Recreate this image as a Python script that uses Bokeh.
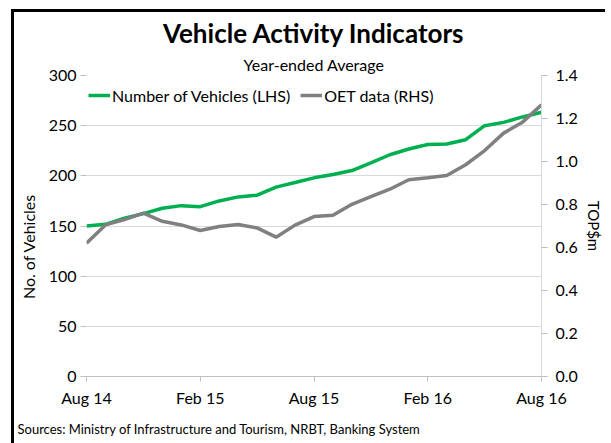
from bokeh.plotting import figure
from bokeh.models import (Range1d, LinearAxis, FixedTicker, Legend, LegendItem,
                          Title)
from bokeh.embed import file_html
from bokeh.resources import INLINE

months = ["Aug 14", "Sep 14", "Oct 14", "Nov 14", "Dec 14", "Jan 15", "Feb 15",
          "Mar 15", "Apr 15", "May 15", "Jun 15", "Jul 15", "Aug 15", "Sep 15",
          "Oct 15", "Nov 15", "Dec 15", "Jan 16", "Feb 16", "Mar 16", "Apr 16",
          "May 16", "Jun 16", "Jul 16", "Aug 16"]
vehicles = [150, 151.7, 157.7, 162.3, 167.7, 170.3, 169.3, 175, 179, 180.7, 188.7,
            193.3, 198, 201.3, 205.3, 213, 221, 226.7, 231.3, 231.7, 236, 250,
            253.3, 258.7, 263.3]
oet = [0.62, 0.705, 0.73, 0.76, 0.722, 0.705, 0.679, 0.698, 0.707, 0.691, 0.648,
       0.704, 0.744, 0.75, 0.801, 0.837, 0.871, 0.915, 0.924, 0.935, 0.985, 1.051,
       1.132, 1.183, 1.264]
tick_months = ["Aug 14", "Feb 15", "Aug 15", "Feb 16", "Aug 16"]
left_ticks = [0, 50, 100, 150, 200, 250, 300]
right_ticks = [0.0, 0.2, 0.4, 0.6, 0.8, 1.0, 1.2, 1.4]

FONT = "Lato"
xs = list(range(len(months)))

p = figure(frame_width=455, frame_height=301, output_backend="svg",
           toolbar_location=None,
           x_range=Range1d(0, len(months) - 1), y_range=Range1d(0, 300),
           min_border_left=72, min_border_right=62, min_border_top=63,
           min_border_bottom=63)
p.styles = {"margin-left": "11px", "margin-top": "9px",
            "border-left": "3px solid black", "border-top": "3px solid black"}
p.outline_line_color = None
p.background_fill_color = "white"
p.border_fill_color = "white"

p.extra_y_ranges = {"rhs": Range1d(0, 1.4)}

# Titles
p.title.text = ""
sub = Title(text="Year-ended Average", align="center", text_font=FONT,
            text_font_size="16px", text_font_style="normal", text_color="#000000",
            standoff=4)
main = Title(text="Vehicle Activity Indicators", align="center", text_font=FONT,
             text_font_size="26px", text_font_style="bold", text_color="#000000",
             standoff=3)
p.add_layout(sub, "above")
p.add_layout(main, "above")

source = Title(text="Sources: Ministry of Infrastructure and Tourism, NRBT, Banking System",
               align="left", offset=-69, text_font=FONT, text_font_size="13px",
               text_font_style="normal", text_color="#000000", standoff=19)
p.add_layout(source, "below")

# x axis
xt = [months.index(m) for m in tick_months]
p.xaxis.ticker = FixedTicker(ticks=xt)
p.xaxis.major_label_overrides = {i: months[i] for i in xt}
p.xaxis.minor_tick_line_color = None
p.xaxis.axis_line_color = "#bfbfbf"
p.xaxis.major_tick_line_color = "#bfbfbf"
p.xaxis.major_tick_in = 0
p.xaxis.major_tick_out = 5
p.xaxis.major_label_text_font = FONT
p.xaxis.major_label_text_font_size = "16px"
p.xaxis.major_label_text_color = "#000000"
p.xaxis.major_label_standoff = 6

# left axis
p.yaxis.ticker = FixedTicker(ticks=left_ticks)
p.yaxis.minor_tick_line_color = None
p.yaxis.axis_line_color = None
p.yaxis.major_tick_line_color = "#bfbfbf"
p.yaxis.major_tick_in = 0
p.yaxis.major_tick_out = 6
p.yaxis.major_label_text_font = FONT
p.yaxis.major_label_text_font_size = "16px"
p.yaxis.major_label_text_color = "#000000"
p.yaxis.major_label_standoff = 4
p.yaxis.axis_label = "No. of Vehicles" + "\u00a0" * 10
p.yaxis.axis_label_text_font = FONT
p.yaxis.axis_label_text_font_size = "16px"
p.yaxis.axis_label_text_font_style = "normal"
p.yaxis.axis_label_text_color = "#000000"
p.yaxis.axis_label_standoff = 8

# right axis
ra = LinearAxis(y_range_name="rhs", ticker=FixedTicker(ticks=right_ticks),
                axis_label="TOP$m")
ra.major_label_overrides = {t: f"{t:.1f}" for t in right_ticks}
ra.minor_tick_line_color = None
ra.axis_line_color = "#d9d9d9"
ra.major_tick_line_color = "#bfbfbf"
ra.major_tick_in = 0
ra.major_tick_out = 6
ra.major_label_text_font = FONT
ra.major_label_text_font_size = "16px"
ra.major_label_text_color = "#000000"
ra.major_label_standoff = 8
ra.axis_label_text_font = FONT
ra.axis_label_text_font_size = "15px"
ra.axis_label_text_font_style = "normal"
ra.axis_label_text_color = "#000000"
ra.axis_label_standoff = 4
p.add_layout(ra, "right")

p.xgrid.grid_line_color = None
p.ygrid.grid_line_color = "#d9d9d9"
p.ygrid.grid_line_width = 1

g1 = p.line(xs, vehicles, line_color="#00b050", line_width=3.5)
g2 = p.line(xs, oet, line_color="#808080", line_width=3.5, y_range_name="rhs")

legend = Legend(items=[LegendItem(label="Number of Vehicles (LHS)", renderers=[g1]),
                       LegendItem(label="OET data (RHS)", renderers=[g2])],
                orientation="horizontal", location=(2, 271),
                background_fill_alpha=0, border_line_color=None,
                label_text_font=FONT, label_text_font_size="16px",
                label_text_color="#000000", glyph_width=22, label_standoff=2,
                spacing=10, padding=0, margin=0)
p.add_layout(legend)

open("out.html", "w").write(file_html(p, INLINE))
